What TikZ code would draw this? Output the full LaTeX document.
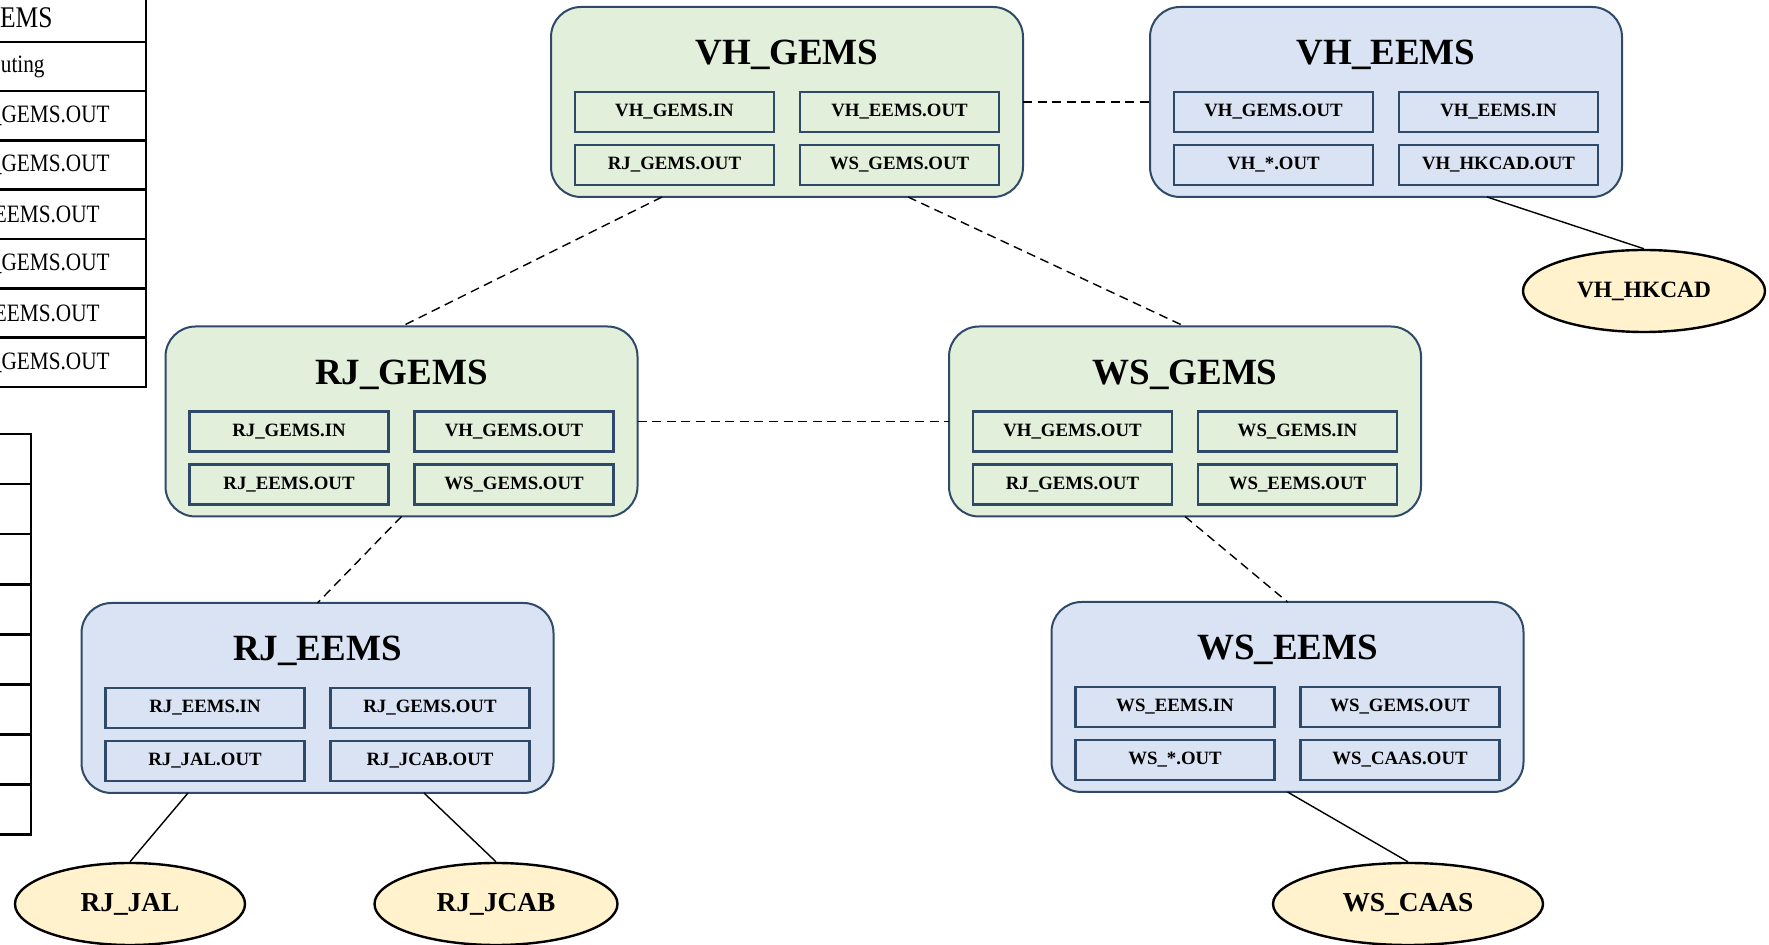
\documentclass[tikz,border=0pt]{standalone}
\usepackage{fontspec}
\setmainfont{Liberation Serif}
\newfontfamily\cellfont[FakeStretch=0.85]{Liberation Serif}
\usepackage{tikz}
\usepackage{xcolor}
\usetikzlibrary{positioning, shapes.geometric}

\definecolor{gemsfill}{HTML}{E2EFDA}
\definecolor{eemsfill}{HTML}{DAE3F3}
\definecolor{extfill}{HTML}{FFF2CC}
\definecolor{frame}{HTML}{2E4A68}

% one site: outer box, its name and four queues
\newcommand{\mksite}[8]{%
  \node[#2] (#1) at #3 {};
  \node[sitename] (#1t) at ([yshift=-29pt]#1.north) {#4};
  \node[queue, below right=42.5pt and 12pt of #1.north west] (#1a) {#5};
  \node[queue, right=13pt of #1a] (#1b) {#6};
  \node[queue, below=6.5pt of #1a] (#1c) {#7};
  \node[queue, below=6.5pt of #1b] (#1d) {#8};
}

\begin{document}
\begin{tikzpicture}[x=0.5pt, y=-0.5pt,
  site/.style={draw=frame, line width=1pt, rounded corners=15pt, minimum width=236pt, minimum height=95pt, inner sep=0pt, outer sep=0pt},
  gems/.style={site, fill=gemsfill},
  eems/.style={site, fill=eemsfill},
  sitename/.style={anchor=base, inner sep=0pt, font=\fontsize{18.5}{20}\selectfont\bfseries},
  queue/.style={draw=frame, line width=1.3pt, minimum width=99.5pt, minimum height=20pt, inner sep=0pt, outer sep=0pt, font=\fontsize{9.4}{11}\selectfont\bfseries},
  extsys/.style={ellipse, draw=black, line width=1.2pt, fill=extfill, minimum height=41pt, inner sep=0pt, font=\fontsize{13.7}{15}\selectfont\bfseries},
  peer/.style={line width=0.7pt, dash pattern=on 4.5pt off 2.8pt},
  feed/.style={line width=0.7pt},
  tbl/.style={line width=1.3pt},
  cell/.style={inner sep=0pt, font=\cellfont\fontsize{12.5}{14}\selectfont}]
  \useasboundingbox (0,0) rectangle (1769,945);

  % tables on the left, cut by the page edge
  \foreach \i in {0,...,7}
    \draw[tbl] (-300,{-7.4+49.3*\i}) rectangle (146,{-7.4+49.3*(\i+1)});
  \node[cell, anchor=east, font=\cellfont\fontsize{15}{17}\selectfont] (cell0) at (53,17.25) {EMS};
  \foreach \ex/\txt [count=\i from 1] in {45/uting, 110/\_GEMS.OUT, 110/\_GEMS.OUT, 100/EEMS.OUT, 110/\_GEMS.OUT, 100/EEMS.OUT, 110/\_GEMS.OUT}
    \node[cell, anchor=east] (cell\i) at (\ex,{17.25+49.3*\i}) {\txt};
  \foreach \i in {0,...,7}
    \draw[tbl] (-300,{434+50.1*\i}) rectangle (31,{434+50.1*(\i+1)});

  \mksite{VHG}{gems}{(787,102)}{VH\_GEMS}{VH\_GEMS.IN}{VH\_EEMS.OUT}{RJ\_GEMS.OUT}{WS\_GEMS.OUT}
  \mksite{VHE}{eems}{(1386,102)}{VH\_EEMS}{VH\_GEMS.OUT}{VH\_EEMS.IN}{VH\_*.OUT}{VH\_HKCAD.OUT}
  \mksite{RJG}{gems}{(401.5,421.5)}{RJ\_GEMS}{RJ\_GEMS.IN}{VH\_GEMS.OUT}{RJ\_EEMS.OUT}{WS\_GEMS.OUT}
  \mksite{WSG}{gems}{(1185,421.5)}{WS\_GEMS}{VH\_GEMS.OUT}{WS\_GEMS.IN}{RJ\_GEMS.OUT}{WS\_EEMS.OUT}
  \mksite{RJE}{eems}{(317.5,698)}{RJ\_EEMS}{RJ\_EEMS.IN}{RJ\_GEMS.OUT}{RJ\_JAL.OUT}{RJ\_JCAB.OUT}
  \mksite{WSE}{eems}{(1287.5,697)}{WS\_EEMS}{WS\_EEMS.IN}{WS\_GEMS.OUT}{WS\_*.OUT}{WS\_CAAS.OUT}

  \node[extsys, minimum width=121pt, font=\fontsize{11.7}{13}\selectfont\bfseries] (HK) at (1644,291) {VH\_HKCAD};
  \node[extsys, minimum width=115pt] (JAL) at (130,904) {RJ\_JAL};
  \node[extsys, minimum width=121.5pt] (JCAB) at (496,904) {RJ\_JCAB};
  \node[extsys, minimum width=135pt] (CAAS) at (1408,904) {WS\_CAAS};

  \draw[peer] (VHG) -- (VHE);
  \draw[peer] ([xshift=-62.5pt]VHG.south) -- (RJG.north);
  \draw[peer] ([xshift=60.5pt]VHG.south) -- (WSG.north);
  \draw[peer] (RJG) -- (WSG);
  \draw[peer] (RJG.south) -- (RJE.north);
  \draw[peer] (WSG.south) -- (WSE.north);

  \draw[feed] ([xshift=50.5pt]VHE.south) -- (HK.north);
  \draw[feed] ([xshift=-64.75pt]RJE.south) -- (JAL.north);
  \draw[feed] ([xshift=53.25pt]RJE.south) -- (JCAB.north);
  \draw[feed] (WSE.south) -- (CAAS.north);
\end{tikzpicture}
\end{document}
